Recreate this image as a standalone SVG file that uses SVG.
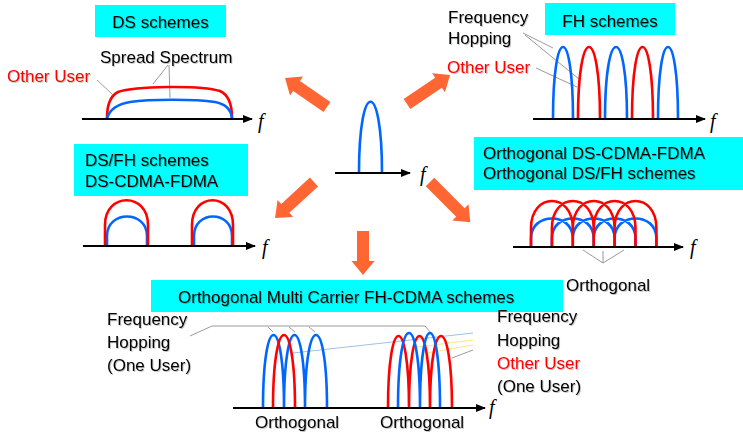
<svg xmlns="http://www.w3.org/2000/svg" width="743" height="433" viewBox="0 0 743 433">
  <style>
    .t { font-family: "Liberation Sans", Arial, sans-serif; font-size: 17px; fill: #000; filter: url(#soft); }
    .red { fill: #FF0000; }
    .f { font-family: "Liberation Serif", "Times New Roman", serif; font-style: italic; font-size: 20px; fill: #000; }
    .box { fill: #00FFFF; }
    .axis { stroke: #000; stroke-width: 2; fill: none; marker-end: url(#ah); }
    .rc { stroke: #FF0000; stroke-width: 2.6; fill: none; }
    .bc { stroke: #0066FF; stroke-width: 2.6; fill: none; }
    .lead { stroke: #808080; stroke-width: 0.8; fill: none; }
    .lblue { stroke: #9DC3E6; stroke-width: 1; fill: none; }
    .lyel { stroke: #FFE680; stroke-width: 1; fill: none; }
    .big { fill: #FF6633; }
  </style>
  <defs>
    <marker id="ah" markerUnits="userSpaceOnUse" markerWidth="10" markerHeight="8" refX="9" refY="4" orient="auto">
      <path d="M0,0 L10,4 L0,8 Z" fill="#000"/>
    </marker>
    <!-- light drop shadow under the labels -->
    <filter id="soft" x="-5%" y="-20%" width="110%" height="150%">
      <feDropShadow dx="1" dy="1" stdDeviation="0.6" flood-color="#000" flood-opacity="0.22"/>
    </filter>
  </defs>
  <rect width="743" height="433" fill="#fff"/>

  <!-- DS schemes -->
  <g id="ds">
    <rect class="box" x="95" y="5" width="131" height="32"/>
    <text class="t" x="160.5" y="28" text-anchor="middle">DS schemes</text>
    <text class="t" x="100" y="63" font-size="17.8">Spread Spectrum</text>
    <text class="t red" x="7" y="82">Other User</text>
    <path class="lead" d="M97,80 L112,94 M168,65 L153,84 M169,65 L170,98"/>
    <path class="rc" d="M107,118 C107,104 110,96 118,92 C135,86 200,85 220,91 C229,95 232,104 232,118"/>
    <path class="bc" d="M107,118 C110,109 118,104 130,102 C150,99 195,99 215,102 C226,104 231,110 232,118"/>
    <line class="axis" x1="82" y1="119" x2="252" y2="119"/>
    <text class="f" x="258" y="128">f</text>
  </g>

  <!-- FH schemes -->
  <g id="fh">
    <rect class="box" x="545" y="3" width="130" height="32"/>
    <text class="t" x="610" y="27" text-anchor="middle">FH schemes</text>
    <text class="t" x="448" y="23">Frequency</text>
    <text class="t" x="448" y="44">Hopping</text>
    <text class="t red" x="447" y="73">Other User</text>
    <path class="lead" d="M523,33 L553,48 M525,35 L579,79 M536,68 L577,87"/>
    <path class="bc" d="M553,119 C553,23 573,23 573,119 M605,119 C605,23 627,23 627,119 M658,119 C658,23 678,23 678,119"/>
    <path class="rc" d="M578,119 C578,23 600,23 600,119 M632,119 C632,23 653,23 653,119"/>
    <line class="axis" x1="533" y1="119" x2="705" y2="119"/>
    <text class="f" x="710" y="128">f</text>
  </g>

  <!-- single carrier -->
  <g id="single">
    <path class="bc" d="M359,173 C359,78 382,78 382,173"/>
    <line class="axis" x1="335" y1="173" x2="410" y2="173"/>
    <text class="f" x="420" y="181">f</text>
  </g>

  <!-- DS/FH schemes -->
  <g id="dsfh">
    <rect class="box" x="74" y="144" width="174" height="52"/>
    <text class="t" x="85" y="166">DS/FH schemes</text>
    <text class="t" x="85" y="187">DS-CDMA-FDMA</text>
    <path class="bc" d="M107,246 V236 C107,210 147,210 147,236 V246 M194,246 V236 C194,210 232,210 232,236 V246"/>
    <path class="rc" d="M105,246 V225 C105,192 148,192 148,225 V246 M192,246 V225 C192,192 233,192 233,225 V246"/>
    <line class="axis" x1="83" y1="246" x2="255" y2="246"/>
    <text class="f" x="262" y="254">f</text>
  </g>

  <!-- Orthogonal DS-CDMA-FDMA -->
  <g id="ortho-ds">
    <rect class="box" x="474" y="137" width="269" height="53"/>
    <text class="t" x="483" y="158.5">Orthogonal DS-CDMA-FDMA</text>
    <text class="t" x="483" y="178.5">Orthogonal DS/FH schemes</text>
    <path class="bc" d="M531,247 V238 C531,212 572.8,212 572.8,238 V247 M551.9,247 V238 C551.9,212 593.7,212 593.7,238 V247 M572.8,247 V238 C572.8,212 614.6,212 614.6,238 V247 M593.7,247 V238 C593.7,212 635.5,212 635.5,238 V247 M614.6,247 V238 C614.6,212 656.4,212 656.4,238 V247"/>
    <path class="rc" d="M531,247 V228 C531,192 572.8,192 572.8,228 V247 M551.9,247 V228 C551.9,192 593.7,192 593.7,228 V247 M572.8,247 V228 C572.8,192 614.6,192 614.6,228 V247 M593.7,247 V228 C593.7,192 635.5,192 635.5,228 V247 M614.6,247 V228 C614.6,192 656.4,192 656.4,228 V247"/>
    <line class="axis" x1="513" y1="247" x2="683" y2="247"/>
    <text class="f" x="690" y="254">f</text>
    <path class="lead" d="M583,250 L603,263 M603,251 L603,263 M624,250 L603,263"/>
    <text class="t" x="566" y="291" font-size="18.4">Orthogonal</text>
  </g>

  <!-- Orthogonal Multi Carrier FH-CDMA -->
  <g id="mc-fh">
    <rect class="box" x="151" y="280" width="412" height="32"/>
    <text class="t" x="178" y="303" font-size="18">Orthogonal Multi Carrier FH-CDMA schemes</text>
    <text class="t" x="107" y="325">Frequency</text>
    <text class="t" x="107" y="348">Hopping</text>
    <text class="t" x="107" y="371">(One User)</text>
    <text class="t" x="497" y="322">Frequency</text>
    <text class="t" x="497" y="345.5">Hopping</text>
    <text class="t red" x="497" y="369">Other User</text>
    <text class="t" x="497" y="392">(One User)</text>
    <path class="lead" d="M190,336 L212,326 L425,326 L431,333 M268,327 L273,332 M289,327 L295,332 M309,327 L315,332"/>
    <path class="lblue" d="M293,353 L473,333"/>
    <path class="lyel" d="M417,347 L473,340 M427,353 L473,345"/>
    <path class="lead" d="M452,358 L473,350"/>
    <path class="bc" d="M263,408 C263,310.7 284,310.7 284,408 M284,408 C284,310.7 305,310.7 305,408 M305,408 C305,310.7 327,310.7 327,408"/>
    <path class="rc" d="M273,408 C273,310.7 295,310.7 295,408"/>
    <path class="rc" d="M388,408 C388,312 409,312 409,408 M409,408 C409,312 430,312 430,408 M430,408 C430,312 452,312 452,408"/>
    <path class="bc" d="M398,408 C398,308 420,308 420,408 M420,408 C420,308 440,308 440,408"/>
    <line class="axis" x1="233" y1="408" x2="485" y2="408"/>
    <text class="f" x="489" y="414">f</text>
    <text class="t" x="255" y="428" font-size="16">Orthogonal</text>
    <text class="t" x="380" y="428" font-size="16">Orthogonal</text>
  </g>

  <!-- block arrows from the single carrier -->
  <g id="connectors">
    <path class="big" transform="translate(327,107) rotate(-145.4)" d="M0,-6 H37 V-11.5 L51,0 L37,11.5 V6 H0 Z"/>
    <path class="big" transform="translate(407,104) rotate(-34)" d="M0,-6 H38 V-11.5 L52,0 L38,11.5 V6 H0 Z"/>
    <path class="big" transform="translate(314,182) rotate(137.3)" d="M0,-6 H39 V-11.5 L53,0 L39,11.5 V6 H0 Z"/>
    <path class="big" transform="translate(430,182) rotate(45)" d="M0,-6 H43 V-11.5 L57,0 L43,11.5 V6 H0 Z"/>
    <path class="big" transform="translate(363,231) rotate(90)" d="M0,-6 H30 V-11.5 L44,0 L30,11.5 V6 H0 Z"/>
  </g>
</svg>
